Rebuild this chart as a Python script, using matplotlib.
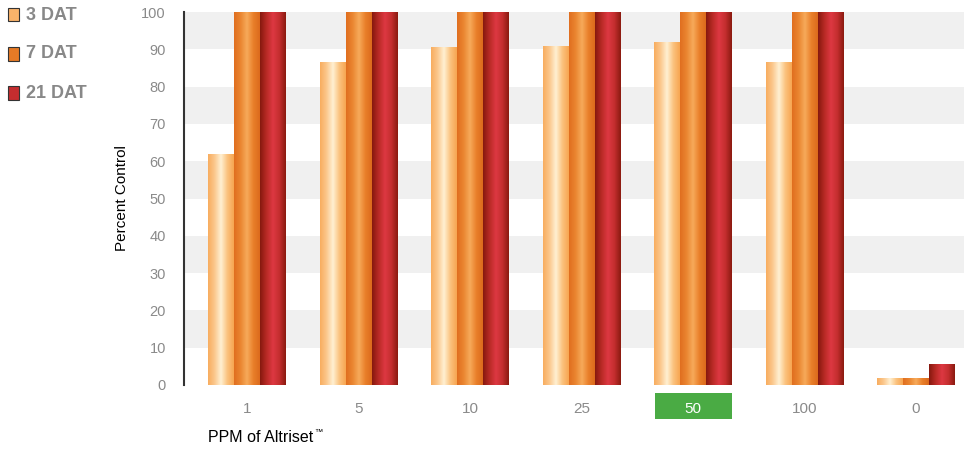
import numpy as np
import matplotlib
matplotlib.use('Agg')
import matplotlib.pyplot as plt
from matplotlib.colors import LinearSegmentedColormap
from matplotlib.patches import Rectangle
import matplotlib.transforms as mtransforms

plt.rcParams['font.family'] = ['Liberation Sans', 'DejaVu Sans']

ppm = ['1', '5', '10', '25', '50', '100', '0']
dat3 = [62, 86.5, 90.5, 91, 92, 86.5, 2]
dat7 = [100, 100, 100, 100, 100, 100, 2]
dat21 = [100, 100, 100, 100, 100, 100, 5.5]
series_names = ['3 DAT', '7 DAT', '21 DAT']
highlight = '50'

# cylinder-like shading, left -> right
cmaps = [
    LinearSegmentedColormap.from_list('c3', ['#f8ad5e', '#fbc78c', '#fff0d2', '#fbc27e', '#f7a550']),
    LinearSegmentedColormap.from_list('c7', ['#e06e1f', '#ea8530', '#f7aa5a', '#e97f2a', '#dc6a1c']),
    LinearSegmentedColormap.from_list('c21', ['#85180e', '#b82a25', '#dd3842', '#c42e2f', '#8a1a0f']),
]
flat = ['#f9b36a', '#e67a26', '#c42d2f']

fig = plt.figure(figsize=(9.64, 4.49), dpi=100)
ax = fig.add_axes([184/964, 1-385/449, 1-184/964, 373/449])

x = np.arange(len(ppm))
w = 0.233
grad = np.linspace(0, 1, 256).reshape(1, -1)
for i, vals in enumerate([dat3, dat7, dat21]):
    bars = ax.bar(x + (i-1)*w, vals, w, color=flat[i], linewidth=0, zorder=2)
    for b in bars:
        x0, y0 = b.get_x(), b.get_y()
        im = ax.imshow(grad, cmap=cmaps[i], aspect='auto', zorder=3,
                       extent=[x0, x0 + b.get_width(), y0, y0 + b.get_height()])
        im.set_clip_path(b)

# alternating background bands
for lo in range(10, 100, 20):
    ax.axhspan(lo, lo+10, color='#f0f0f0', zorder=0, linewidth=0)

ax.set_xlim(-0.565, 6.43)
ax.set_ylim(0, 100)
ax.set_yticks(range(0, 101, 10))
ax.set_xticks(x)
ax.set_xticklabels(ppm)
ax.tick_params(axis='both', length=0, colors='#8a8a8a')
ax.tick_params(axis='y', labelsize=10.5, pad=13)
ax.tick_params(axis='x', labelsize=11, pad=12)
for s in ['top', 'right', 'bottom']:
    ax.spines[s].set_visible(False)
ax.spines['left'].set_color('#333333')
ax.spines['left'].set_linewidth(1.5)

# highlighted tick label
hi = ppm.index(highlight)
ax.get_xticklabels()[hi].set_color('white')
trans = mtransforms.blended_transform_factory(ax.transData, fig.transFigure)
ax.add_patch(Rectangle((hi - 0.345, 1-419/449), 0.69, 26/449, transform=trans,
                       facecolor='#4aab44', edgecolor='none', clip_on=False, zorder=-1))

ax.set_ylabel('Percent Control', fontsize=11, color='black', labelpad=9)
fig.text(208/964, 1-437/449, 'PPM of Altriset', fontsize=11.5, color='black',
         ha='left', va='center')
fig.text(314/964, 1-432/449, '\u2122', fontsize=6, color='black',
         ha='left', va='center')

# legend
for i, name in enumerate(series_names):
    yc = 1 - (15 + 39*i)/449
    fig.patches.append(Rectangle((8/964, yc - 6.5/449), 11/964, 13/449,
                                 transform=fig.transFigure, facecolor=flat[i],
                                 edgecolor='#333333', linewidth=0.8))
    fig.text(26/964, yc, name, fontsize=13, fontweight='bold', color='#888888',
             ha='left', va='center')

fig.savefig('out.png', dpi=100)
